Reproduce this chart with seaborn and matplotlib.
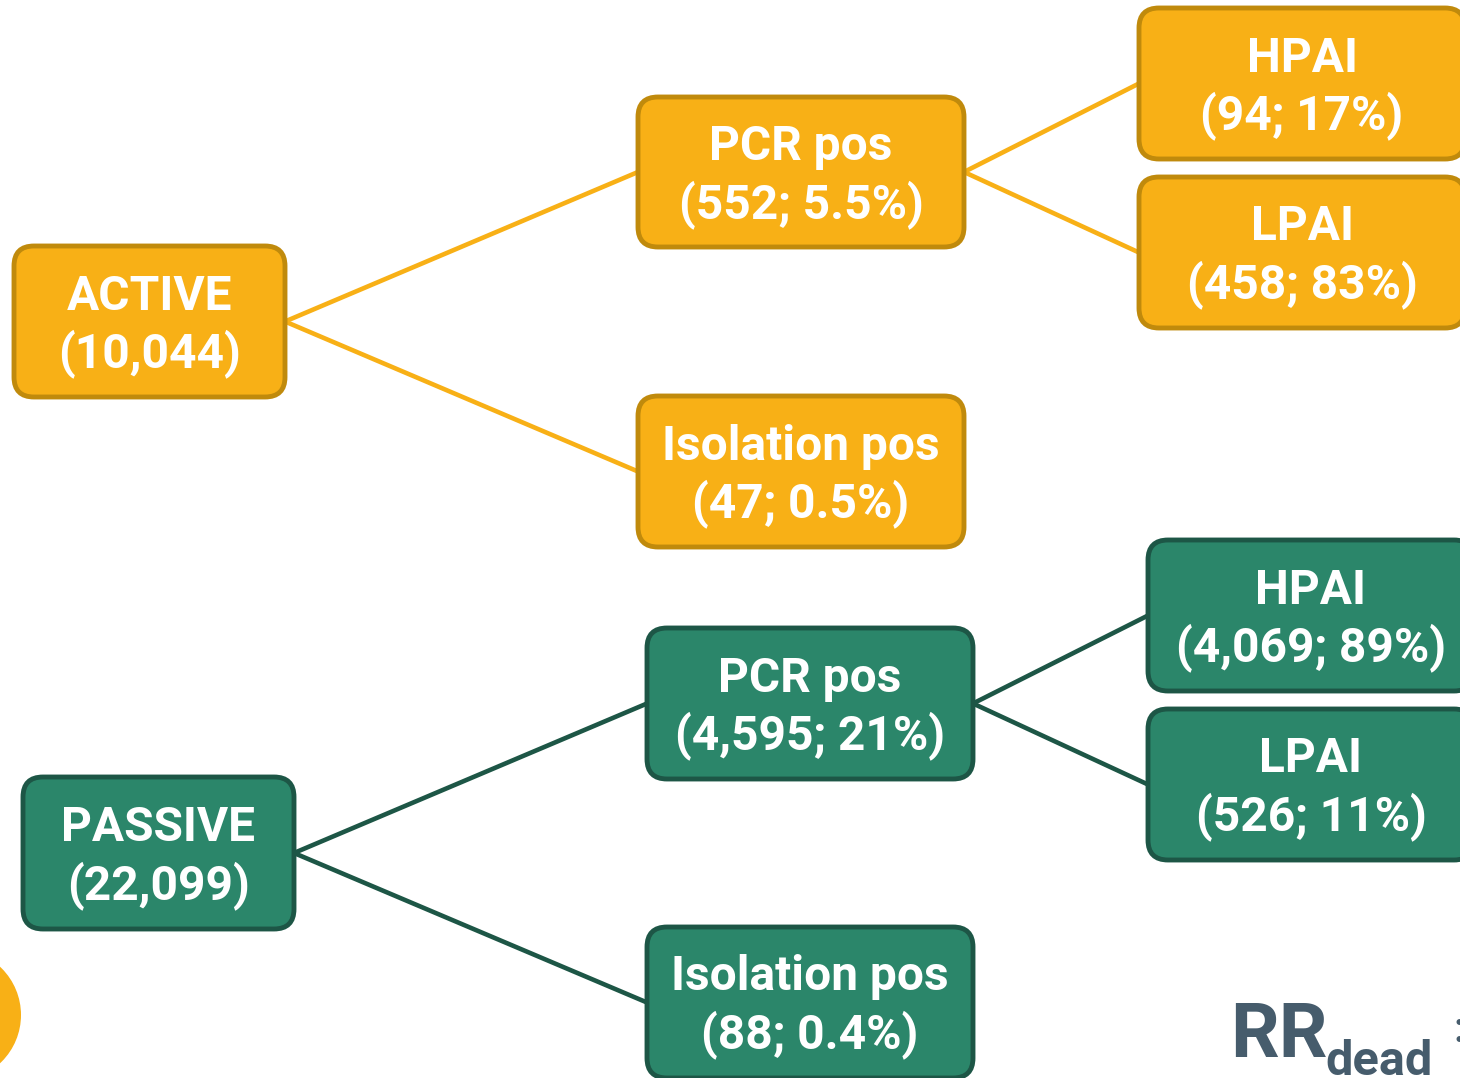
import numpy as np
import pandas as pd
import matplotlib
matplotlib.use("Agg")
import matplotlib.pyplot as plt
from matplotlib.patches import FancyBboxPatch, Circle
import seaborn as sns

# node labels and counts
node_ids = ["act", "act_pcr", "act_iso", "act_hpai", "act_lpai",
            "pas", "pas_pcr", "pas_iso", "pas_hpai", "pas_lpai"]
node_titles = ["ACTIVE", "PCR pos", "Isolation pos", "HPAI", "LPAI",
               "PASSIVE", "PCR pos", "Isolation pos", "HPAI", "LPAI"]
node_values = ["(10,044)", "(552; 5.5%)", "(47; 0.5%)", "(94; 17%)", "(458; 83%)",
               "(22,099)", "(4,595; 21%)", "(88; 0.4%)", "(4,069; 89%)", "(526; 11%)"]
node_group = ["active"] * 5 + ["passive"] * 5

# tree edges (parent -> child)
edge_parent = ["act", "act", "act_pcr", "act_pcr", "pas", "pas", "pas_pcr", "pas_pcr"]
edge_child = ["act_pcr", "act_iso", "act_hpai", "act_lpai",
              "pas_pcr", "pas_iso", "pas_hpai", "pas_lpai"]

# layout in pixel space: left, top, width, height
LAYOUT = {
    "act": (14, 246, 271, 151), "act_pcr": (638, 97, 326, 150),
    "act_iso": (638, 396, 326, 151), "act_hpai": (1139, 8, 326, 151),
    "act_lpai": (1139, 177, 326, 151),
    "pas": (23, 777, 271, 152), "pas_pcr": (647, 628, 326, 151),
    "pas_iso": (647, 927, 326, 151), "pas_hpai": (1148, 540, 326, 151),
    "pas_lpai": (1148, 709, 326, 151),
}
FILL = {"active": "#F8B016", "passive": "#2B866A"}
EDGE = {"active": "#C08A0C", "passive": "#1D5646"}
LINE = {"active": "#F8B016", "passive": "#1D5646"}

sns.set_theme(style="white")
plt.rcParams["font.family"] = ["Roboto", "DejaVu Sans"]

fig = plt.figure(figsize=(14.6, 10.78), dpi=100)
ax = fig.add_axes([0, 0, 1, 1])
ax.set_xlim(0, 1460)
ax.set_ylim(1078, 0)
ax.axis("off")

nodes = pd.DataFrame({"id": node_ids, "title": node_titles,
                      "value": node_values, "group": node_group}).set_index("id")

# connectors
rows = []
for k, (p, c) in enumerate(zip(edge_parent, edge_child)):
    px, py, pw, ph = LAYOUT[p]
    cx, cy, cw, ch = LAYOUT[c]
    rows.append({"edge": k, "x": px + pw, "y": py + ph / 2, "group": nodes.loc[p, "group"]})
    rows.append({"edge": k, "x": cx, "y": cy + ch / 2, "group": nodes.loc[p, "group"]})
edges = pd.DataFrame(rows)
sns.lineplot(data=edges, x="x", y="y", units="edge", hue="group", palette=LINE,
             estimator=None, sort=False, linewidth=3.3, legend=False, ax=ax, zorder=1)

# boxes
for nid, row in nodes.iterrows():
    x, y, w, h = LAYOUT[nid]
    box = FancyBboxPatch((x, y), w, h, boxstyle="round,pad=0,rounding_size=20",
                         facecolor=FILL[row["group"]], edgecolor=EDGE[row["group"]],
                         linewidth=3.5, zorder=2)
    ax.add_patch(box)
    cxm, cym = x + w / 2, y + h / 2
    ax.text(cxm, cym - 12, row["title"], ha="center", va="baseline", color="white",
            fontsize=34.5, fontweight="bold", zorder=3)
    ax.text(cxm, cym + 46, row["value"], ha="center", va="baseline", color="white",
            fontsize=34.5, fontweight="bold", zorder=3)

# decorative bits
ax.add_patch(Circle((-45, 1015), 66, facecolor="#F8B016", edgecolor="none", zorder=2))
ax.text(1230, 1057, "RR", ha="left", va="baseline", color="#465C6C",
        fontsize=55, fontweight="bold")
ax.text(1325, 1075, "dead", ha="left", va="baseline", color="#465C6C",
        fontsize=35, fontweight="bold")
ax.text(1453, 1042, ":", ha="left", va="baseline", color="#465C6C",
        fontsize=30, fontweight="bold")

fig.savefig("out.png", dpi=100)
plt.close(fig)
